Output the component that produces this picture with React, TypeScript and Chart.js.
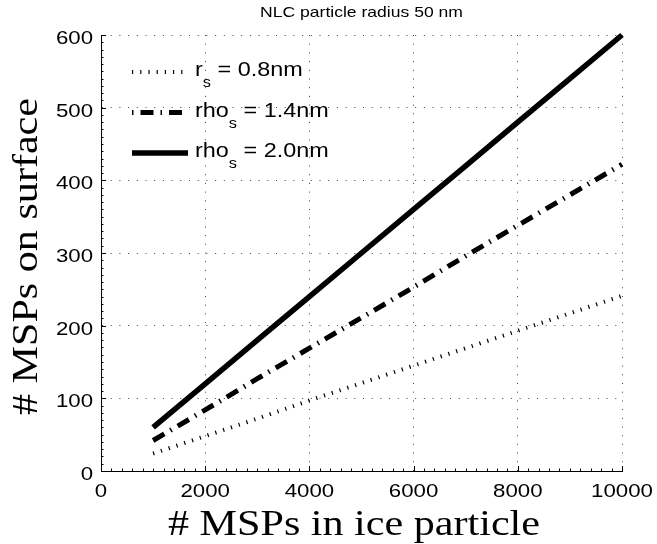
import React, { useEffect, useRef } from "react";
import { Chart, registerables } from "chart.js";
Chart.register(...registerables);

const xValues = [1000, 2000, 3000, 4000, 5000, 6000, 7000, 8000, 9000, 10000];
const dottedValues = [24, 48, 72, 97, 121, 145, 169, 193, 217, 241];
const dashDotValues = [42, 84, 127, 169, 211, 253, 296, 338, 380, 422];
const solidValues = [60, 120, 180, 240, 300, 360, 420, 480, 540, 600];
const xTicks = [0, 2000, 4000, 6000, 8000, 10000];
const yTicks = [0, 100, 200, 300, 400, 500, 600];
const titleText = "NLC particle radius 50 nm";
const xTitleText = "# MSPs in ice particle";
const yTitleText = "# MSPs on surface";
const legendBase = ["r", "rho", "rho"];
const legendSub = ["s", "s", "s"];
const legendRest = [" = 0.8nm", " = 1.4nm", " = 2.0nm"];

const styles = [
  { width: 4, dash: [1.2, 7], offset: 0 },
  { width: 5, dash: [13, 7, 1.5, 7], offset: 20 },
  { width: 5.5, dash: [], offset: 0 },
];

const SANS = '"Liberation Sans", Arial, sans-serif';
const SERIF = '"Liberation Serif", "Times New Roman", serif';
const SX = 1.17;

function drawText(ctx: CanvasRenderingContext2D, s: string, x: number, y: number, font: string, align: CanvasTextAlign, sx: number) {
  ctx.save();
  ctx.font = font;
  ctx.translate(x, y);
  ctx.scale(sx, 1);
  ctx.textAlign = align;
  ctx.textBaseline = "alphabetic";
  ctx.fillStyle = "#000";
  ctx.fillText(s, 0, 0);
  ctx.restore();
}

const decorPlugin = {
  id: "decor",
  afterDraw(chart: any) {
    const ctx: CanvasRenderingContext2D = chart.ctx;
    const xs = chart.scales.x;
    const ys = chart.scales.y;
    const area = chart.chartArea;

    // inward ticks
    ctx.save();
    ctx.strokeStyle = "#000";
    ctx.lineWidth = 1;
    ctx.beginPath();
    for (let v = 0; v <= 10000; v += 200) {
      const px = Math.round(xs.getPixelForValue(v)) + 0.5;
      const len = v % 2000 === 0 ? 5 : 2.5;
      ctx.moveTo(px, area.bottom);
      ctx.lineTo(px, area.bottom - len);
    }
    for (let v = 0; v <= 600; v += 10) {
      const py = Math.round(ys.getPixelForValue(v)) + 0.5;
      const len = v % 100 === 0 ? 5 : 2.5;
      ctx.moveTo(area.left, py);
      ctx.lineTo(area.left + len, py);
    }
    ctx.stroke();
    ctx.restore();

    // tick labels
    const tickFont = `19px ${SANS}`;
    xTicks.forEach((v) => drawText(ctx, String(v), xs.getPixelForValue(v), area.bottom + 26, tickFont, "center", SX));
    yTicks.forEach((v) => drawText(ctx, String(v), area.left - 8, ys.getPixelForValue(v) + 9, tickFont, "right", SX));

    // title
    drawText(ctx, titleText, (area.left + area.right) / 2, 17, `15px ${SANS}`, "center", SX);

    // axis titles
    const titleFont = `36px ${SERIF}`;
    ctx.save();
    ctx.font = titleFont;
    const wx = ctx.measureText(xTitleText).width;
    const wy = ctx.measureText(yTitleText).width;
    ctx.restore();
    drawText(ctx, xTitleText, 354, 535, titleFont, "center", 372 / wx);
    ctx.save();
    ctx.translate(37, 256.5);
    ctx.rotate(-Math.PI / 2);
    drawText(ctx, yTitleText, 0, 0, titleFont, "center", 317 / wy);
    ctx.restore();

    // legend
    for (let i = 0; i < 3; i++) {
      const rowY = 72 + i * 40.5;
      const st = styles[i];
      ctx.save();
      ctx.strokeStyle = "#000";
      ctx.lineWidth = st.width;
      ctx.lineCap = "butt";
      ctx.setLineDash(st.dash);
      ctx.lineDashOffset = st.offset;
      ctx.beginPath();
      ctx.moveTo(132, rowY);
      ctx.lineTo(188, rowY);
      ctx.stroke();
      ctx.restore();

      const base = rowY + 4;
      let x = 195;
      const mainFont = `20px ${SANS}`;
      const subFont = `14px ${SANS}`;
      ctx.save();
      ctx.font = mainFont;
      const w1 = ctx.measureText(legendBase[i]).width * SX;
      ctx.font = subFont;
      const w2 = ctx.measureText(legendSub[i]).width * SX;
      ctx.restore();
      drawText(ctx, legendBase[i], x, base, mainFont, "left", SX);
      x += w1;
      drawText(ctx, legendSub[i], x, base + 11, subFont, "left", SX);
      x += w2;
      drawText(ctx, legendRest[i], x, base, mainFont, "left", SX);
    }
  },
};

export default function App() {
  const ref = useRef<HTMLCanvasElement | null>(null);
  useEffect(() => {
    document.body.style.margin = "0";
    const canvas = ref.current!;
    const mk = (vals: number[], i: number) => ({
      data: xValues.map((x, k) => ({ x, y: vals[k] })),
      borderColor: "#000",
      borderWidth: styles[i].width,
      borderDash: styles[i].dash,
      borderCapStyle: "butt" as const,
      pointRadius: 0,
      tension: 0,
      fill: false,
      clip: false as any,
    });
    const chart = new Chart(canvas, {
      type: "line",
      data: {
        datasets: [mk(dottedValues, 0), mk(dashDotValues, 1), mk(solidValues, 2)],
      },
      options: {
        animation: false,
        responsive: false,
        devicePixelRatio: 1,
        layout: { padding: { left: 0, top: 35, right: 35, bottom: 0 } },
        plugins: { legend: { display: false }, title: { display: false }, tooltip: { enabled: false } },
        scales: {
          x: {
            type: "linear",
            min: 0,
            max: 10000,
            ticks: { display: false, stepSize: 2000 },
            grid: { color: "rgba(0,0,0,0.75)", lineWidth: 1, drawTicks: false },
            border: { display: true, color: "#000", width: 1, dash: [1, 7.7] },
            afterFit: (s: any) => { s.height = 73; },
          },
          y: {
            type: "linear",
            min: 0,
            max: 600,
            ticks: { display: false, stepSize: 100 },
            grid: { color: "rgba(0,0,0,0.75)", lineWidth: 1, drawTicks: false },
            border: { display: true, color: "#000", width: 1, dash: [1, 7.7] },
            afterFit: (s: any) => { s.width = 101; },
          },
        },
      },
      plugins: [decorPlugin],
    });
    return () => chart.destroy();
  }, []);
  return <canvas ref={ref} width={657} height={544} style={{ display: "block", width: 657, height: 544 }} />;
}
